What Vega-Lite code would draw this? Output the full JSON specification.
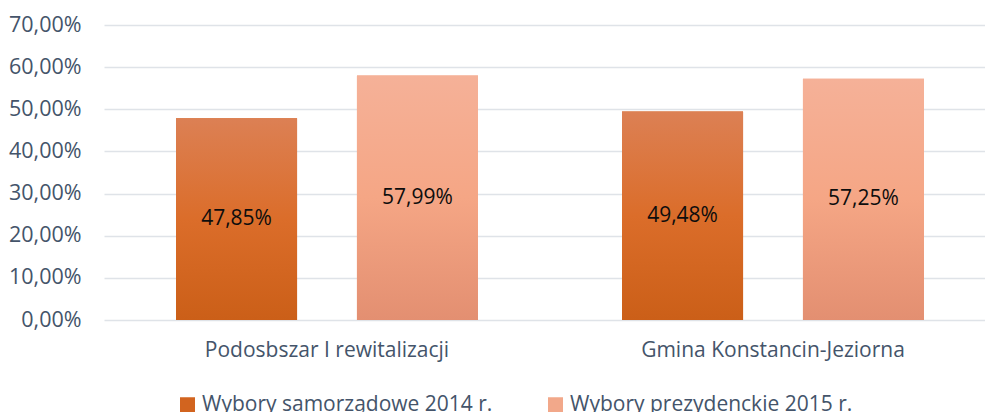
{
  "$schema": "https://vega.github.io/schema/vega-lite/v6.json",
  "width": 892,
  "height": 295,
  "autosize": {"type": "none"},
  "padding": {"left": 104, "top": 25, "right": 0, "bottom": 92},
  "background": "white",
  "config": {
    "locale": {"number": {"decimal": ",", "thousands": " ", "grouping": [3], "currency": ["", " zł"]}},
    "view": {"stroke": null},
    "font": "Open Sans"
  },
  "data": {
    "values": [
      {"area": "Podosbszar I rewitalizacji", "series": "Wybory samorządowe 2014 r.", "value": 0.4785},
      {"area": "Podosbszar I rewitalizacji", "series": "Wybory prezydenckie 2015 r.", "value": 0.5799},
      {"area": "Gmina Konstancin-Jeziorna", "series": "Wybory samorządowe 2014 r.", "value": 0.4948},
      {"area": "Gmina Konstancin-Jeziorna", "series": "Wybory prezydenckie 2015 r.", "value": 0.5725}
    ]
  },
  "resolve": {"scale": {"y": "independent"}},
  "encoding": {
    "x": {
      "field": "area", "type": "nominal", "sort": null,
      "scale": {"paddingInner": 0, "paddingOuter": 0},
      "axis": {"title": null, "domain": false, "ticks": false, "labelAngle": 0, "labelFontSize": 21, "labelColor": "#44546A", "labelPadding": 19, "labelLimit": 0}
    },
    "xOffset": {
      "field": "series", "type": "nominal", "sort": null,
      "scale": {"paddingInner": 0.331, "paddingOuter": 0.398}
    }
  },
  "layer": [
    {
      "mark": {"type": "bar"},
      "encoding": {
        "y": {
          "field": "value", "type": "quantitative", "stack": null,
          "scale": {"domain": [0, 0.7], "nice": false},
          "axis": {"title": null, "values": [0, 0.1, 0.2, 0.3, 0.4, 0.5, 0.6, 0.7], "format": ".2%", "domain": false, "ticks": false, "grid": true, "gridColor": "#DFE3E8", "gridWidth": 1.3, "labelFontSize": 21.5, "labelColor": "#44546A", "labelPadding": 23}
        },
        "color": {
          "field": "series", "type": "nominal", "sort": null,
          "scale": {"range": ["#D2641F", "#F2A88A"]},
          "legend": {"title": null, "orient": "none", "legendX": 73, "legendY": 369, "direction": "horizontal", "symbolType": "square", "symbolSize": 225, "symbolStrokeWidth": 0, "labelFontSize": 21, "labelColor": "#44546A", "labelOffset": 4, "columnPadding": 52, "labelLimit": 0}
        }
      }
    },
    {
      "mark": {"type": "bar"},
      "encoding": {
        "y": {"field": "value", "type": "quantitative", "stack": null, "scale": {"domain": [0, 0.7], "nice": false}, "axis": null},
        "fill": {
          "condition": {
            "test": "datum.series === 'Wybory samorządowe 2014 r.'",
            "value": {"gradient": "linear", "x1": 0, "y1": 0, "x2": 0, "y2": 1, "stops": [{"offset": 0, "color": "#DC8054"}, {"offset": 0.5, "color": "#DB6D2A"}, {"offset": 1, "color": "#CB5F18"}]}
          },
          "value": {"gradient": "linear", "x1": 0, "y1": 0, "x2": 0, "y2": 1, "stops": [{"offset": 0, "color": "#F5B198"}, {"offset": 0.5, "color": "#F5A685"}, {"offset": 1, "color": "#E38F71"}]}
        }
      }
    },
    {
      "mark": {"type": "text", "fontSize": 21, "color": "#0D0D0D", "baseline": "middle"},
      "encoding": {
        "y": {"field": "value", "type": "quantitative", "stack": null, "scale": {"domain": [0, 1.4], "nice": false}, "axis": null},
        "text": {"field": "value", "type": "quantitative", "format": ".2%"}
      }
    }
  ]
}
